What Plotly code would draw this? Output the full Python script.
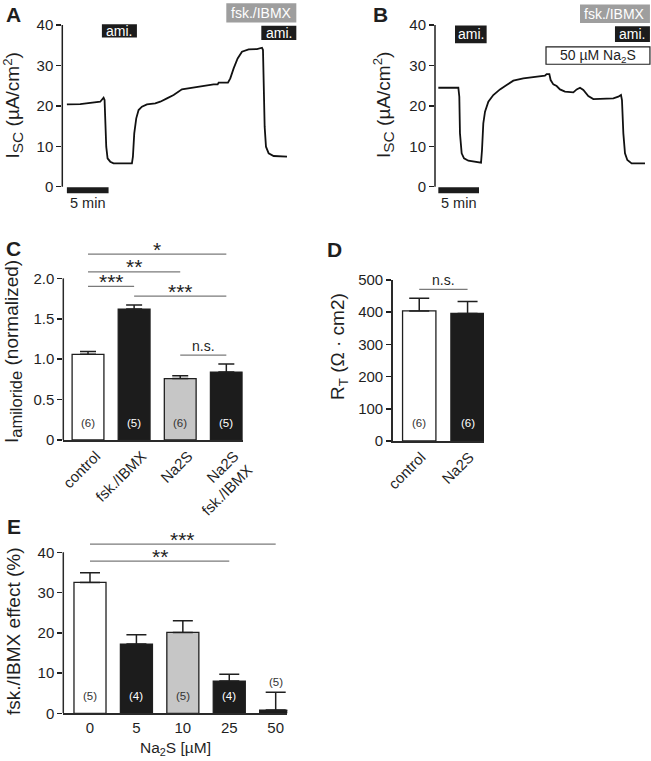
import plotly.graph_objects as go

W, H = 651, 761
FONT = "Liberation Sans, Arial, Helvetica, sans-serif"
INK = "#1f1f1f"
AXC = "#2a2a2a"
SIGC = "#7a7a7a"
BLACK = "#1c1c1c"
GRAY = "#c6c6c6"
BOXGRAY = "#9e9e9e"

# ---------------- data ----------------
# Panel A: Isc trace (time in min, Isc in uA/cm2)
a_time = [0, 1.6, 4.0, 4.2, 4.4, 4.52, 4.6, 4.72, 4.88, 5.2, 5.6, 7.8, 7.92, 8.08, 8.32,
          8.6, 9.0, 9.6, 10.6, 11.2, 12.0, 12.8, 13.8, 15.2, 16.4, 17.6, 18.08, 18.2,
          19.32, 19.6, 20.0, 20.48, 21.0, 21.8, 22.8, 23.2, 23.4, 23.52, 23.6, 23.72,
          23.88, 24.2, 24.8, 25.6, 26.4]
a_isc = [20.37, 20.45, 21.03, 21.44, 22.02, 21.44, 14.85, 9.90, 7.01, 6.19, 5.77, 5.77,
         7.42, 13.20, 16.91, 18.97, 19.79, 20.37, 20.62, 21.03, 21.86, 22.68, 24.08,
         24.58, 24.91, 25.32, 25.32, 25.73, 25.73, 26.80, 29.28, 31.75, 33.40, 33.98,
         34.06, 34.23, 34.39, 33.81, 25.57, 14.85, 9.90, 8.25, 7.59, 7.42, 7.42]

# Panel B: Isc trace
b_time = [0, 2.46, 2.58, 2.66, 2.87, 3.16, 3.69, 4.92, 5.25, 5.37, 5.53, 5.74, 6.15,
          6.76, 7.58, 8.40, 9.22, 10.45, 11.68, 12.50, 13.11, 13.32, 13.65, 13.81,
          14.14, 14.55, 14.96, 15.57, 16.60, 17.01, 17.42, 17.83, 18.44, 19.06, 20.70,
          21.52, 22.13, 22.46, 22.58, 22.75, 22.95, 23.24, 23.77, 25.41]
b_isc = [24.49, 24.49, 22.27, 13.20, 8.25, 7.01, 6.43, 6.19, 5.94, 9.07, 15.67, 18.56,
         21.03, 22.68, 24.08, 25.15, 26.23, 26.80, 27.05, 27.38, 27.46, 27.88, 27.88,
         26.39, 25.32, 24.91, 24.08, 23.51, 23.34, 24.08, 24.49, 23.92, 22.43, 21.69,
         21.69, 21.86, 22.27, 22.68, 21.44, 13.20, 8.25, 6.60, 5.77, 5.77]

# drug application bars (label, start min, end min)
a_events = ["ami.", "fsk./IBMX", "ami."]
a_ev_start = [4.2, 19.12, 23.32]
a_ev_end = [8.4, 27.52, 27.52]
b_events = ["ami.", "fsk./IBMX", "ami.", "50 µM Na<sub>2</sub>S"]
b_ev_start = [2.05, 17.42, 21.72, 13.24]
b_ev_end = [5.94, 26.02, 26.02, 26.02]

# Panel C
c_categories = ["control", "fsk./IBMX", "Na2S", "Na2S<br>fsk./IBMX"]
c_values = [1.06, 1.62, 0.76, 0.84]
c_errors = [0.035, 0.052, 0.035, 0.10]
c_n = ["(6)", "(5)", "(6)", "(5)"]
c_sig = [(0, 3, 2.30, "*"), (0, 2, 2.08, "**"), (0, 1, 1.90, "***"),
         (1, 3, 1.78, "***"), (2, 3, 1.05, "n.s.")]

# Panel D
d_categories = ["control", "Na2S"]
d_values = [404, 396]
d_errors = [39, 37]
d_n = ["(6)", "(6)"]
d_sig = [(0, 1, 471, "n.s.")]

# Panel E
e_categories = ["0", "5", "10", "25", "50"]
e_values = [32.5, 17.2, 20.1, 8.0, 0.8]
e_errors = [2.4, 2.3, 2.9, 1.7, 4.4]
e_n = ["(5)", "(4)", "(5)", "(4)", "(5)"]
e_sig = [(0, 4, 42.0, "***"), (0, 3, 37.8, "**")]


# ---------------- helpers ----------------
def px(x):
    return x / W


def py(y):
    return 1 - y / H


fig = go.Figure()
shapes = []
annotations = []


def ann(text, x, y, size, xref="paper", yref="paper", color=INK, bold=False,
        angle=0, xanchor="center", yanchor="middle", yshift=0):
    annotations.append(dict(
        text=("<b>%s</b>" % text) if bold else text, x=x, y=y, xref=xref, yref=yref,
        showarrow=False, textangle=angle, xanchor=xanchor, yanchor=yanchor,
        yshift=yshift, font=dict(family=FONT, size=size, color=color)))


# ---- traces A / B ----
fig.add_trace(go.Scatter(x=a_time, y=a_isc, mode="lines", xaxis="x", yaxis="y",
                         line=dict(color="#111111", width=1.8), showlegend=False))
fig.add_trace(go.Scatter(x=b_time, y=b_isc, mode="lines", xaxis="x2", yaxis="y2",
                         line=dict(color="#111111", width=1.8), showlegend=False))

a_ev_low = [36.9, 40.6, 36.3]
a_ev_high = [40.2, 45.4, 39.8]
a_ev_fill = [BLACK, BOXGRAY, BLACK]
for lab, s, e, lo, hi, f in zip(a_events, a_ev_start, a_ev_end, a_ev_low, a_ev_high, a_ev_fill):
    shapes.append(dict(type="rect", xref="x", yref="y", x0=s, x1=e, y0=lo, y1=hi,
                       fillcolor=f, line=dict(width=0), layer="above"))
    ann(lab, (s + e) / 2, (lo + hi) / 2, 14, xref="x", yref="y", color="white")

b_ev_low = [35.5, 40.5, 35.8, 30.3]
b_ev_high = [39.9, 45.1, 39.7, 34.6]
b_ev_fill = [BLACK, BOXGRAY, BLACK, "white"]
b_ev_txt = ["white", "white", "white", INK]
for lab, s, e, lo, hi, f, tc in zip(b_events, b_ev_start, b_ev_end, b_ev_low, b_ev_high,
                                    b_ev_fill, b_ev_txt):
    shapes.append(dict(type="rect", xref="x2", yref="y2", x0=s, x1=e, y0=lo, y1=hi,
                       fillcolor=f, layer="above",
                       line=dict(width=1.2 if f == "white" else 0, color=INK)))
    ann(lab, (s + e) / 2, (lo + hi) / 2, 14, xref="x2", yref="y2", color=tc)

# scale bars (5 min) and axis lines for A/B
for xr, yr in (("x", "y"), ("x2", "y2")):
    shapes.append(dict(type="rect", xref=xr, yref=yr, x0=0, x1=5, y0=-0.15, y1=-1.6,
                       fillcolor=BLACK, line=dict(width=0)))
    ann("5 min", 2.5, -4.0, 14.5, xref=xr, yref=yr)
    shapes.append(dict(type="line", xref=xr + " domain", yref=yr, x0=0, x1=0, y0=0, y1=40,
                       line=dict(color=INK, width=1.5)))


# ---- bar panels ----
def bar_panel(cats, vals, errs, nlab, xa, ya, colors, cap, nypos, ntxtcol, sig):
    fig.add_trace(go.Bar(
        x=cats, y=vals, xaxis=xa, yaxis=ya, width=0.69, showlegend=False,
        marker=dict(color=colors, line=dict(color=INK, width=1.3)),
        error_y=dict(type="data", symmetric=False, array=errs, arrayminus=[0] * len(errs),
                     color=INK, thickness=1.5, width=cap)))
    for i, t in enumerate(nlab):
        ann(t, i, nypos[i], 11.5, xref=xa, yref=ya, color=ntxtcol[i])
    for (i0, i1, h, lab) in sig:
        fig.add_trace(go.Scatter(x=[cats[i0], cats[i1]], y=[h, h], mode="lines",
                                 xaxis=xa, yaxis=ya, showlegend=False, hoverinfo="skip",
                                 line=dict(color=SIGC, width=1.3)))
        if lab == "n.s.":
            ann(lab, (i0 + i1) / 2, h, 14, xref=xa, yref=ya, yanchor="middle", yshift=9)
        else:
            ann(lab, (i0 + i1) / 2, h, 21, xref=xa, yref=ya, yanchor="middle", yshift=5)


bar_panel(c_categories, c_values, c_errors, c_n, "x3", "y3",
          ["white", BLACK, GRAY, BLACK], 8, [0.21] * 4,
          ["#333333", "white", "#333333", "white"], c_sig)
bar_panel(d_categories, d_values, d_errors, d_n, "x4", "y4",
          ["white", BLACK], 10, [56, 56], ["#333333", "white"], d_sig)
bar_panel(e_categories, e_values, e_errors, e_n, "x5", "y5",
          ["white", BLACK, GRAY, BLACK, BLACK], 10, [4.3, 4.3, 4.3, 4.3, 7.85],
          ["#333333", "white", "#333333", "white", "#333333"], e_sig)

# manual y-axis lines (stop at top tick) for C and E
shapes.append(dict(type="line", xref="x3 domain", yref="y3", x0=0, x1=0, y0=0, y1=2.0,
                   line=dict(color=AXC, width=1.5)))
shapes.append(dict(type="line", xref="x5 domain", yref="y5", x0=0, x1=0, y0=0, y1=40,
                   line=dict(color=AXC, width=1.5)))

# ---- titles & panel letters ----
ann("A", px(13.5), py(15), 21, bold=True)
ann("B", px(380), py(15), 21, bold=True)
ann("C", px(13.5), py(248), 21, bold=True)
ann("D", px(334.5), py(250), 21, bold=True)
ann("E", px(13.5), py(526), 21, bold=True)

ISC = "I<sub><span style='font-size:15.5px'>SC</span></sub> (µA/cm<sup>2</sup>)"
ann(ISC, px(13.5), py(106), 19, angle=-90)
ann(ISC, px(384), py(105), 19, angle=-90)
ann("I<sub><span style='font-size:16.5px'>amiloride</span></sub> (normalized)",
    px(13), py(352), 19, angle=-90)
ann("R<sub>T</sub> (Ω · cm2)", px(339), py(347), 19, angle=-90)
ann("fsk./IBMX effect (%)", px(13), py(631), 19, angle=-90)
ann("Na<sub>2</sub>S [µM]", px(175), py(748), 15.5)

tickfont = dict(family=FONT, size=15, color=INK)
ylin = dict(showgrid=False, zeroline=False, ticks="outside", ticklen=5, tickwidth=1.5,
            tickcolor=INK, tickfont=tickfont, automargin=False)

layout = dict(
    width=W, height=H, margin=dict(l=0, r=0, t=0, b=0, pad=0), autosize=False,
    paper_bgcolor="white", plot_bgcolor="rgba(0,0,0,0)", bargap=0,
    font=dict(family=FONT, color=INK), showlegend=False,
    # A
    xaxis=dict(domain=[px(62.3), px(297)], range=[-0.55, 27.6], visible=False, anchor="y"),
    yaxis=dict(domain=[py(206.9), py(0.8)], range=[-5, 46], anchor="x", showline=False,
               tickvals=[0, 10, 20, 30, 40], **ylin),
    # B
    xaxis2=dict(domain=[px(435), 1.0], range=[-0.41, 26.15], visible=False, anchor="y2"),
    yaxis2=dict(domain=[py(206.9), py(0.8)], range=[-5, 46], anchor="x2", showline=False,
                tickvals=[0, 10, 20, 30, 40], **ylin),
    # C
    xaxis3=dict(domain=[px(63.3), px(242.7)], range=[-0.536, 3.355], type="category",
                anchor="y3", showline=True, linecolor=AXC, linewidth=1.5, ticks="",
                tickangle=-45, tickfont=tickfont,
                ticklabelshift=8, showgrid=False, automargin=False),
    yaxis3=dict(domain=[py(440), py(242)], range=[0, 2.45], anchor="x3", showline=False,
                tickvals=[0, 0.5, 1.0, 1.5, 2.0], ticktext=["0", "0.5", "1.0", "1.5", "2.0"],
                **ylin),
    # D
    xaxis4=dict(domain=[px(392.7), px(484)], range=[-0.549, 1.34], type="category",
                anchor="y4", showline=True, linecolor=AXC, linewidth=1.5, ticks="",
                tickangle=-45, tickfont=tickfont,
                ticklabelshift=2, showgrid=False, automargin=False),
    yaxis4=dict(domain=[py(441), py(280)], range=[0, 500], anchor="x4", showline=True,
                linecolor=AXC, linewidth=1.5, tickvals=[0, 100, 200, 300, 400, 500], **ylin),
    # E
    xaxis5=dict(domain=[px(63.3), px(287.3)], range=[-0.575, 4.25], type="category",
                anchor="y5", showline=True, linecolor=AXC, linewidth=1.5, ticks="",
                tickfont=tickfont, showgrid=False, automargin=False),
    yaxis5=dict(domain=[py(713.3), py(528.1)], range=[0, 46], anchor="x5", showline=False,
                tickvals=[0, 10, 20, 30, 40], **ylin),
    shapes=shapes,
    annotations=annotations,
)
fig.update_layout(**layout)
fig.write_html("out.html", config={"displayModeBar": False, "staticPlot": True},
               post_script="document.body.style.margin='0';document.body.style.overflow='hidden';")
